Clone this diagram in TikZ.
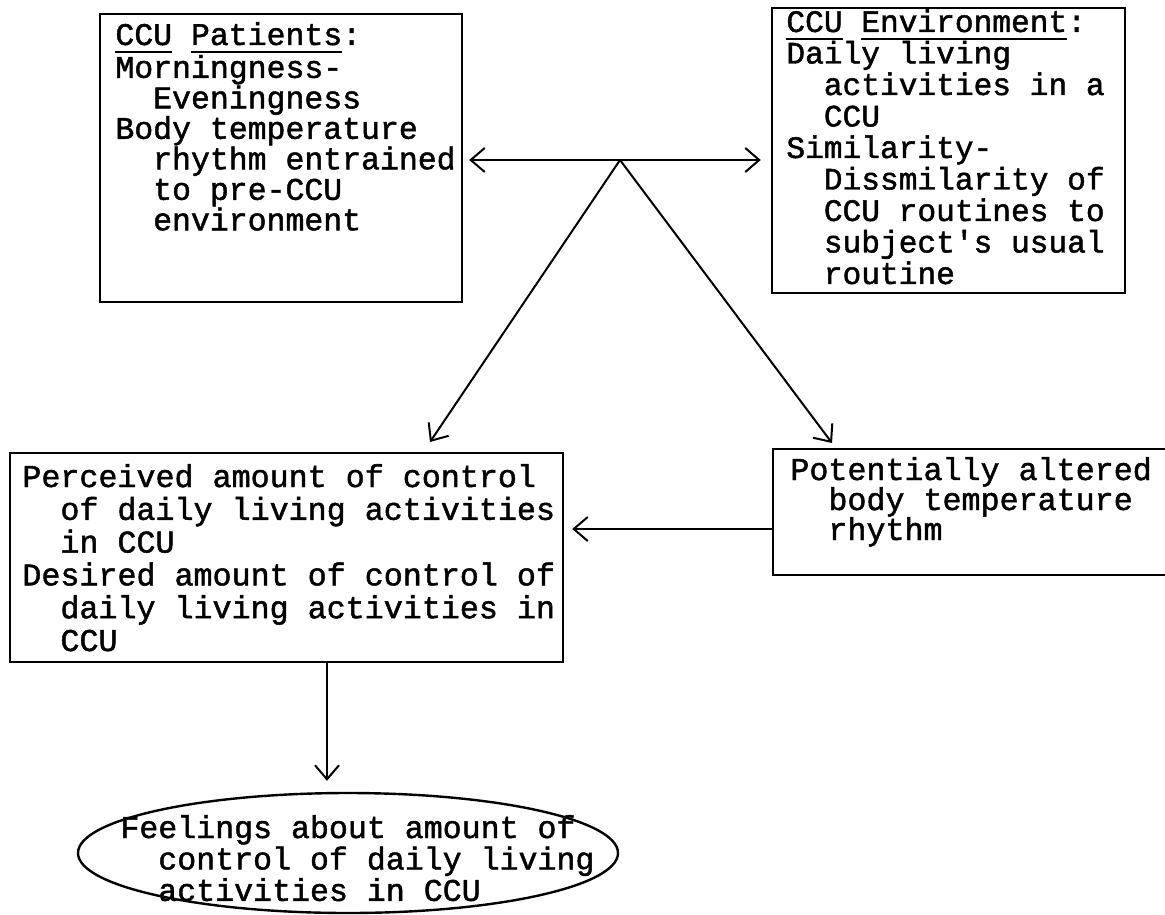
\documentclass[tikz,border=0pt]{standalone}
\usepackage{fontspec}
\newfontfamily\tw[FakeBold=1.5]{Liberation Mono}
\usetikzlibrary{arrows.meta,shapes.geometric}
\newcommand{\ind}{\hspace*{1.2em}}
\newcommand{\tsp}{\hspace{0.6em}}
\newcommand{\tul}[1]{\setbox0\hbox{#1}\rlap{\rule[-4pt]{\wd0}{0.8pt}}\box0\relax}
\begin{document}
\begin{tikzpicture}[x=0.5pt,y=-0.5pt,
  boxn/.style={draw, rectangle, line width=1.2pt, inner sep=0pt},
  txt/.style 2 args={anchor=base west, inner sep=0pt, align=left, text width=330pt,
    font={\tw\fontsize{#1}{#2}\selectfont}},
  arr/.style={line width=1pt, -{Straight Barb[length=7pt,width=12pt,line width=1pt]}}]
\useasboundingbox (0,0) rectangle (1165,914);
% boxes
\node[boxn, minimum width=181pt, minimum height=144pt] (pat) at (281,158) {};
\node[boxn, minimum width=176.5pt, minimum height=142.5pt] (env) at (948.5,150.5) {};
\node[boxn, minimum width=276.5pt, minimum height=104.5pt] (ctl) at (286.5,557.5) {};
\node[boxn, minimum width=197pt, minimum height=63pt] (alt) at (970,512) {};
\node[draw, ellipse, line width=1.2pt, minimum width=270pt, minimum height=60pt, inner sep=0pt] (feel) at (348,853) {};
% texts
\node[txt={15.75pt}{15.25pt}] (t1) at (115,45) {\tul{CCU}\tsp\tul{Patients}:\\ Morningness-\\ \ind Eveningness\\ Body\tsp temperature\\ \ind rhythm\tsp entrained\\ \ind to\tsp pre-CCU\\ \ind environment};
\node[txt={15.6pt}{15.75pt}] (t2) at (786,32) {\tul{CCU}\tsp\tul{Environment}:\\ Daily\tsp living\\ \ind activities\tsp in\tsp a\\ \ind CCU\\ Similarity-\\ \ind Dissmilarity\tsp of\\ \ind CCU\tsp routines\tsp to\\ \ind subject\textquotesingle s\tsp usual\\ \ind routine};
\node[txt={15.85pt}{16.4pt}] (t3) at (22,487) {Perceived\tsp amount\tsp of\tsp control\\ \ind of\tsp daily\tsp living\tsp activities\\ \ind in\tsp CCU\\ Desired\tsp amount\tsp of\tsp control\tsp of\\ \ind daily\tsp living\tsp activities\tsp in\\ \ind CCU};
\node[txt={15.85pt}{15pt}] (t4) at (790,480) {Potentially\tsp altered\\ \ind body\tsp temperature\\ \ind rhythm};
\node[txt={15.8pt}{14.25pt}] (t5) at (120,838) {Feelings\tsp about\tsp amount\tsp of\\ \ind control\tsp of\tsp daily\tsp living\\ \ind activities\tsp in\tsp CCU};
% connectors
\coordinate (apex) at (620,160);
\coordinate (lt) at (430,442);
\coordinate (rt) at (832,443);
\coordinate (h) at (0,529);
\coordinate (v) at (327,0);
\draw[arr, shorten >=3pt] (apex) -- (apex -| pat.east);
\draw[arr, shorten >=5pt] (apex) -- (apex -| env.west);
\draw[arr] (apex) -- (lt);
\draw[arr] (apex) -- (rt);
\draw[arr, shorten >=4pt] (h -| alt.west) -- (h -| ctl.east);
\draw[arr, shorten >=5.5pt] (v |- ctl.south) -- (v |- feel.north);
\end{tikzpicture}
\end{document}
